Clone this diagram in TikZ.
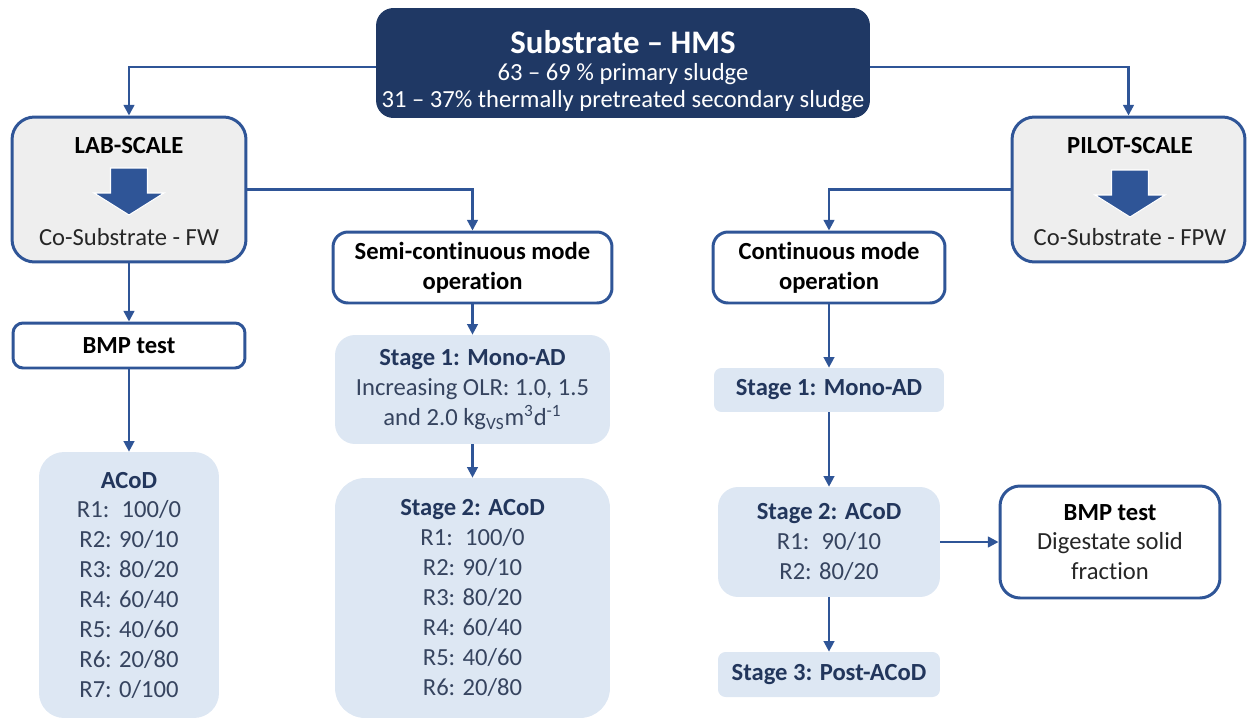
\documentclass[tikz,border=0pt]{standalone}
\usepackage{fontspec}
\setmainfont{Carlito}[Ligatures=CommonOff]
\usetikzlibrary{arrows.meta,calc}
\definecolor{navy}{HTML}{1F3864}
\definecolor{bordblue}{HTML}{2F5597}
\definecolor{lightblue}{HTML}{DDE7F3}
\definecolor{grayfill}{HTML}{EEEEEE}
\definecolor{titleblue}{HTML}{22365C}
\definecolor{bodyblue}{HTML}{36445F}
\definecolor{darkgray}{HTML}{262626}
\begin{document}
\begin{tikzpicture}[x=0.02cm,y=-0.02cm,
  base/.style={font=\fontsize{14}{17}\selectfont, align=center, inner sep=0pt},
  whitebox/.style={base, draw=bordblue, line width=1.7pt, fill=white, rounded corners=0.3cm, text=black},
  graybox/.style={whitebox, fill=grayfill, rounded corners=0.45cm},
  bluebox/.style={base, fill=lightblue, rounded corners=0.45cm, text=bodyblue},
  conn/.style={draw=bordblue, line width=1.3pt, -{Triangle[length=6pt,width=6pt]}},
  lbl/.style={base, inner sep=0pt},
  bigarrow/.style={fill=bordblue, draw=white, line width=0.6pt}
]
\useasboundingbox (0,0) rectangle (1248,720);

% top box
\node[base, fill=navy, rounded corners=0.35cm, minimum width=9.88cm, minimum height=2.2cm] (top) at (623,63) {};
\node[lbl, text=white, font=\fontsize{14}{15}\selectfont] (topt) at (623,71)
  {{\fontsize{18.7}{20}\selectfont\bfseries Substrate – HMS}\\[0.5pt]
   63 – 69 \% primary sludge\\
   31 – 37\% thermally pretreated secondary sludge};

% lab scale
\node[graybox, minimum width=4.68cm, minimum height=2.9cm] (lab) at (129,189.5) {};
\node[lbl, font=\fontsize{14}{17}\selectfont\bfseries] (labt) at (129,146) {LAB-SCALE};
\node[lbl, text=darkgray] (labc) at (129,237) {Co-Substrate - FW};
\fill[bigarrow] (110.5,168) -- (147.5,168) -- (147.5,193) -- (164,193) -- (129,215) -- (94,193) -- (110.5,193) -- cycle;

% pilot scale
\node[graybox, minimum width=4.66cm, minimum height=2.9cm] (pilot) at (1128.5,189.5) {};
\node[lbl, font=\fontsize{14}{17}\selectfont\bfseries] (pilott) at (1130,146) {PILOT-SCALE};
\node[lbl, text=darkgray] (pilotc) at (1130,237) {Co-Substrate - FPW};
\fill[bigarrow] (1111.5,170) -- (1148.5,170) -- (1148.5,195) -- (1165,195) -- (1130,217) -- (1095,195) -- (1111.5,195) -- cycle;

% left column
\node[whitebox, rounded corners=0.2cm, minimum width=4.64cm, minimum height=0.9cm, font=\fontsize{14}{17}\selectfont\bfseries] (bmp1) at (129,345.5) {BMP test};
\node[bluebox, rounded corners=0.5cm, minimum width=3.6cm, minimum height=5.32cm] (acod1) at (129,585)
  {{\bfseries\color{titleblue}ACoD}\\
   R1:\enspace 100/0\\ R2: 90/10\\ R3: 80/20\\ R4: 60/40\\ R5: 40/60\\ R6: 20/80\\ R7: 0/100};

% middle column
\node[whitebox, minimum width=5.58cm, minimum height=1.42cm, font=\fontsize{14}{17}\selectfont\bfseries] (semi) at (472.5,267.5)
  {Semi-continuous mode\\operation};
\node[bluebox, rounded corners=0.4cm, minimum width=5.5cm, minimum height=2.18cm] (st1a) at (472.5,389.5)
  {{\bfseries\color{titleblue}Stage 1: Mono-AD}\\
   Increasing OLR: 1.0, 1.5\\
   and 2.0 kg\textsubscript{VS}m\textsuperscript{3}d\textsuperscript{-1}};
\node[bluebox, rounded corners=0.6cm, minimum width=5.5cm, minimum height=4.8cm] (st2a) at (472.5,598)
  {{\bfseries\color{titleblue}Stage 2: ACoD}\\
   R1:\enspace 100/0\\ R2: 90/10\\ R3: 80/20\\ R4: 60/40\\ R5: 40/60\\ R6: 20/80};

% right column
\node[whitebox, minimum width=4.64cm, minimum height=1.42cm, font=\fontsize{14}{17}\selectfont\bfseries] (cont) at (829,267.5)
  {Continuous mode\\operation};
\node[bluebox, rounded corners=0.15cm, minimum width=4.6cm, minimum height=0.88cm, font=\fontsize{14}{17}\selectfont\bfseries, text=titleblue] (st1b) at (829,390)
  {Stage 1: Mono-AD};
\node[bluebox, rounded corners=0.4cm, minimum width=4.44cm, minimum height=2.2cm] (st2b) at (829,542)
  {{\bfseries\color{titleblue}Stage 2: ACoD}\\
   R1:\enspace 90/10\\ R2: 80/20};
\node[bluebox, rounded corners=0.15cm, minimum width=4.44cm, minimum height=0.9cm, font=\fontsize{14}{17}\selectfont\bfseries, text=titleblue] (st3b) at (829,674.5)
  {Stage 3: Post-ACoD};
\node[whitebox, rounded corners=0.4cm, minimum width=4.4cm, minimum height=2.24cm, text=darkgray] (bmp2) at (1110,542)
  {{\bfseries\color{black}BMP test}\\ Digestate solid\\ fraction};

% connectors
\draw[conn] ($(top.west)+(0,4)$) -| (lab.north);
\draw[conn] ($(top.east)+(0,4)$) -| (pilot.north);
\draw[conn] (lab.east) -| (semi.north);
\draw[conn] (pilot.west) -| (cont.north);
\draw[conn] (lab.south) -- (bmp1.north);
\draw[conn] (bmp1.south) -- (acod1.north);
\draw[conn] (semi.south) -- (st1a.north);
\draw[conn] (st1a.south) -- (st2a.north);
\draw[conn] (cont.south) -- (st1b.north);
\draw[conn] (st1b.south) -- (st2b.north);
\draw[conn] (st2b.south) -- (st3b.north);
\draw[conn] (st2b.east) -- (bmp2.west);
\end{tikzpicture}
\end{document}
